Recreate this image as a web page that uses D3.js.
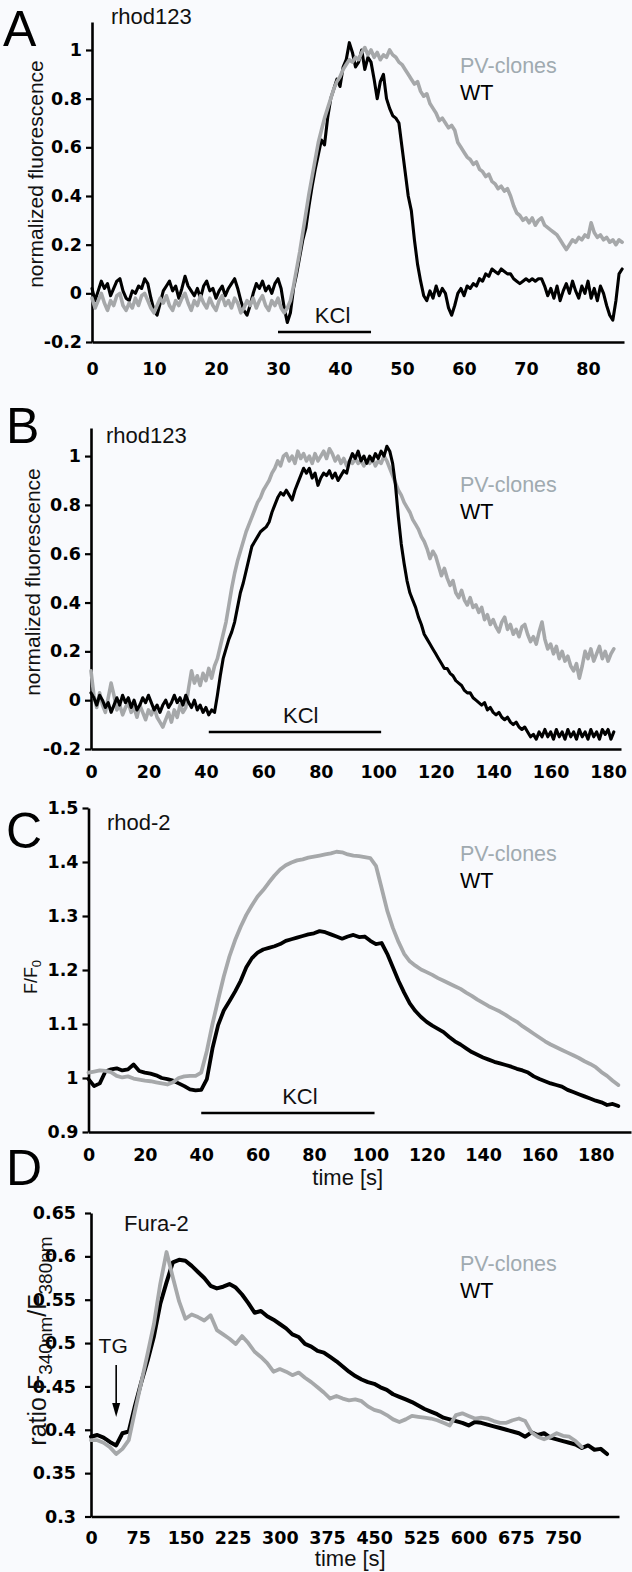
<!DOCTYPE html>
<html><head><meta charset="utf-8">
<script src="https://cdn.jsdelivr.net/npm/d3@7"></script>
<style>
body{margin:0;background:#f9fafd;}
svg{display:block;}
</style>
</head><body>
<svg id="chart" width="632" height="1572"></svg>
<script>
// ---------- DATA ----------
// Panel A (rhod123), sampled every 0.5 s
const A_STEP = 0.5;
const A_WT = [
 0.02,-0.03,0.01,0.05,0.02,0.04,-0.01,0.02,0.05,0.06,
 0.01,-0.02,-0.03,0.01,0.00,0.03,0.02,0.06,0.04,-0.02,
 -0.07,-0.09,-0.04,0.01,0.03,0.05,0.01,0.03,-0.02,0.02,
 0.07,0.03,0.01,-0.01,0.02,-0.02,0.03,0.05,0.01,0.02,
 -0.02,0.01,0.03,-0.01,0.02,0.04,0.06,0.02,-0.03,-0.07,
 -0.09,-0.05,0.00,0.04,0.02,0.05,0.01,0.03,0.00,0.04,
 0.06,0.02,-0.06,-0.12,-0.08,0.02,0.08,0.15,0.22,0.27,
 0.36,0.44,0.51,0.57,0.63,0.61,0.72,0.80,0.84,0.88,
 0.85,0.93,0.96,1.03,0.99,0.93,0.95,1.00,0.92,0.97,
 0.95,0.88,0.80,0.87,0.90,0.80,0.76,0.73,0.72,0.70,
 0.60,0.50,0.40,0.34,0.22,0.12,0.05,-0.01,-0.03,0.01,
 -0.02,0.03,-0.01,0.02,0.00,-0.06,-0.09,-0.05,0.00,0.02,
 -0.01,0.03,0.02,0.04,0.03,0.06,0.05,0.08,0.07,0.10,
 0.09,0.08,0.10,0.09,0.08,0.08,0.06,0.05,0.04,0.05,
 0.06,0.05,0.06,0.05,0.06,0.06,0.03,-0.01,0.02,-0.02,
 0.03,-0.03,0.01,0.04,0.00,0.05,0.01,-0.02,0.03,0.00,
 0.05,-0.02,0.02,-0.03,0.03,0.00,-0.05,-0.09,-0.11,-0.03,
 0.08,0.10
];
const A_PV = [
 -0.02,-0.06,-0.03,0.00,-0.04,-0.07,-0.03,-0.05,-0.01,0.00,
 -0.05,-0.07,-0.04,-0.06,-0.02,-0.05,-0.01,0.00,-0.03,-0.06,
 -0.08,-0.05,-0.02,-0.04,-0.01,-0.05,-0.07,-0.03,-0.05,-0.02,
 0.00,-0.04,-0.07,-0.03,-0.05,-0.01,-0.04,-0.06,-0.02,-0.05,
 -0.07,-0.03,-0.01,-0.05,-0.03,-0.06,-0.02,-0.04,-0.08,-0.06,
 -0.03,-0.05,-0.02,-0.06,-0.03,-0.01,-0.05,-0.07,-0.03,-0.05,
 -0.02,-0.06,-0.08,-0.06,-0.03,0.03,0.10,0.17,0.25,0.33,
 0.41,0.48,0.55,0.62,0.67,0.72,0.76,0.80,0.84,0.87,
 0.89,0.92,0.94,0.96,0.95,0.97,0.96,0.99,1.01,0.98,
 1.00,0.97,0.99,0.96,0.98,0.97,1.00,0.98,0.97,0.95,
 0.94,0.92,0.90,0.88,0.86,0.87,0.83,0.81,0.82,0.78,
 0.76,0.74,0.71,0.72,0.70,0.68,0.69,0.67,0.62,0.60,
 0.58,0.56,0.55,0.53,0.54,0.51,0.50,0.48,0.49,0.46,
 0.45,0.43,0.44,0.42,0.43,0.40,0.36,0.33,0.32,0.30,
 0.31,0.29,0.31,0.28,0.30,0.31,0.28,0.27,0.26,0.25,
 0.24,0.22,0.20,0.18,0.20,0.22,0.21,0.23,0.22,0.24,
 0.23,0.29,0.25,0.23,0.24,0.22,0.23,0.21,0.22,0.20,
 0.22,0.21
];
const A_XTICKS = [0,10,20,30,40,50,60,70,80];
const A_YTICKS = [-0.2,0,0.2,0.4,0.6,0.8,1];
const A_KCL = [30,45];

// Panel B (rhod123), sampled every 1 s
const B_STEP = 1;
const B_WT = [
 0.03,0.01,-0.02,0.02,0.00,-0.03,-0.01,-0.05,-0.02,0.01,
 -0.02,0.02,-0.01,0.01,-0.03,0.00,-0.04,-0.02,0.01,-0.01,
 0.02,-0.01,-0.04,-0.02,-0.05,-0.02,0.00,-0.03,-0.01,0.02,
 -0.01,0.01,-0.02,0.02,-0.01,-0.03,0.00,-0.04,-0.02,-0.05,
 -0.03,-0.06,-0.04,-0.05,0.02,0.10,0.17,0.21,0.25,0.28,
 0.32,0.38,0.44,0.48,0.53,0.58,0.63,0.65,0.67,0.69,
 0.70,0.71,0.73,0.77,0.80,0.83,0.85,0.84,0.86,0.84,
 0.82,0.86,0.89,0.92,0.95,0.93,0.95,0.91,0.93,0.88,
 0.91,0.93,0.92,0.94,0.91,0.93,0.90,0.92,0.94,0.93,
 0.98,1.01,0.99,1.02,0.98,1.00,0.97,1.00,0.98,1.01,
 0.99,1.02,1.00,1.04,1.02,0.97,0.88,0.75,0.64,0.56,
 0.49,0.44,0.41,0.38,0.34,0.31,0.27,0.25,0.23,0.21,
 0.19,0.17,0.15,0.13,0.13,0.11,0.10,0.08,0.07,0.06,
 0.04,0.03,0.03,0.01,0.00,-0.01,-0.02,-0.01,-0.04,-0.03,
 -0.05,-0.06,-0.05,-0.07,-0.08,-0.07,-0.09,-0.10,-0.09,-0.11,
 -0.12,-0.11,-0.13,-0.15,-0.14,-0.16,-0.13,-0.15,-0.12,-0.15,
 -0.13,-0.16,-0.12,-0.15,-0.13,-0.16,-0.12,-0.15,-0.13,-0.16,
 -0.12,-0.15,-0.13,-0.16,-0.12,-0.15,-0.13,-0.16,-0.12,-0.14,
 -0.12,-0.16,-0.13
];
const B_PV = [
 0.12,0.02,-0.03,0.03,-0.02,-0.05,0.01,0.07,0.02,-0.04,
 -0.02,-0.06,-0.03,-0.01,-0.05,-0.03,-0.07,-0.02,-0.05,-0.08,
 -0.04,-0.06,-0.03,-0.07,-0.09,-0.11,-0.08,-0.05,-0.09,-0.04,
 -0.07,-0.02,-0.05,-0.03,0.05,0.12,0.07,0.10,0.06,0.11,
 0.08,0.13,0.09,0.14,0.17,0.22,0.27,0.32,0.39,0.46,
 0.52,0.57,0.61,0.65,0.69,0.72,0.75,0.78,0.81,0.83,
 0.86,0.88,0.90,0.93,0.95,0.98,0.96,1.00,1.01,0.98,
 1.00,0.97,1.02,0.99,1.01,0.98,1.00,0.97,1.01,0.98,
 1.00,1.02,0.99,1.03,1.01,0.98,1.00,0.97,0.99,0.96,
 0.98,0.97,0.99,0.97,0.98,0.96,0.98,0.97,0.99,0.96,
 0.98,0.97,1.00,0.98,0.95,0.92,0.89,0.86,0.84,0.81,
 0.79,0.77,0.74,0.72,0.70,0.67,0.65,0.62,0.58,0.61,
 0.59,0.55,0.51,0.54,0.50,0.47,0.49,0.44,0.42,0.45,
 0.41,0.39,0.42,0.38,0.39,0.36,0.38,0.33,0.35,0.31,
 0.33,0.30,0.28,0.32,0.34,0.29,0.31,0.27,0.29,0.26,
 0.30,0.31,0.27,0.24,0.26,0.23,0.28,0.32,0.25,0.21,
 0.23,0.19,0.22,0.17,0.20,0.16,0.18,0.14,0.12,0.15,
 0.09,0.14,0.20,0.17,0.21,0.16,0.19,0.22,0.17,0.20,
 0.16,0.19,0.21
];
const B_XTICKS = [0,20,40,60,80,100,120,140,160,180];
const B_YTICKS = [-0.2,0,0.2,0.4,0.6,0.8,1];
const B_KCL = [41,101];

// Panel C (rhod-2), sampled every 2 s
const C_STEP = 2;
const C_WT = [
 0.998,0.985,0.990,1.012,1.016,1.018,1.014,1.016,1.025,1.013,
 1.010,1.008,1.005,1.000,0.998,0.995,0.990,0.985,0.979,0.977,
 0.978,0.998,1.055,1.098,1.125,1.142,1.160,1.180,1.205,1.222,
 1.232,1.238,1.241,1.244,1.248,1.254,1.257,1.260,1.263,1.266,
 1.268,1.272,1.270,1.266,1.262,1.258,1.262,1.265,1.261,1.262,
 1.254,1.248,1.250,1.230,1.205,1.180,1.158,1.138,1.124,1.113,
 1.104,1.097,1.091,1.085,1.076,1.068,1.062,1.055,1.048,1.043,
 1.038,1.034,1.030,1.027,1.024,1.021,1.017,1.014,1.010,1.003,
 0.998,0.994,0.990,0.987,0.984,0.978,0.974,0.970,0.966,0.962,
 0.958,0.955,0.950,0.952,0.948
];
const C_PV = [
 1.010,1.012,1.014,1.013,1.011,1.004,1.001,1.003,0.999,0.997,
 0.995,0.994,0.992,0.990,0.988,0.992,1.000,1.003,1.004,1.004,
 1.010,1.050,1.100,1.145,1.188,1.225,1.255,1.280,1.302,1.320,
 1.336,1.348,1.362,1.375,1.386,1.394,1.399,1.403,1.405,1.408,
 1.410,1.412,1.414,1.416,1.419,1.418,1.414,1.412,1.411,1.409,
 1.407,1.393,1.352,1.310,1.278,1.252,1.230,1.216,1.208,1.201,
 1.196,1.191,1.185,1.180,1.175,1.170,1.165,1.158,1.152,1.145,
 1.139,1.133,1.128,1.123,1.117,1.110,1.104,1.096,1.089,1.082,
 1.075,1.068,1.062,1.057,1.052,1.047,1.042,1.037,1.031,1.026,
 1.020,1.011,1.004,0.995,0.987
];
const C_XTICKS = [0,20,40,60,80,100,120,140,160,180];
const C_YTICKS = [0.9,1,1.1,1.2,1.3,1.4,1.5];
const C_KCL = [40,101.5];

// Panel D (Fura-2), sampled every 10 s
const D_STEP = 10;
const D_WT = [
 0.392,0.394,0.391,0.386,0.382,0.396,0.398,0.428,0.455,0.480,
 0.508,0.545,0.570,0.593,0.596,0.595,0.589,0.582,0.575,0.566,
 0.563,0.565,0.568,0.564,0.556,0.546,0.535,0.537,0.531,0.527,
 0.522,0.517,0.510,0.507,0.499,0.496,0.491,0.489,0.484,0.479,
 0.473,0.467,0.462,0.458,0.455,0.453,0.449,0.446,0.441,0.438,
 0.435,0.432,0.428,0.424,0.421,0.418,0.414,0.412,0.410,0.408,
 0.405,0.409,0.408,0.406,0.404,0.402,0.400,0.398,0.396,0.392,
 0.397,0.394,0.396,0.391,0.389,0.387,0.385,0.383,0.379,0.382,
 0.377,0.378,0.372
];
const D_PV = [
 0.388,0.388,0.385,0.380,0.372,0.378,0.388,0.422,0.455,0.488,
 0.522,0.568,0.605,0.576,0.548,0.528,0.533,0.530,0.526,0.532,
 0.515,0.510,0.505,0.499,0.508,0.500,0.490,0.484,0.477,0.467,
 0.470,0.467,0.463,0.466,0.460,0.455,0.449,0.443,0.436,0.439,
 0.436,0.434,0.435,0.433,0.427,0.423,0.421,0.417,0.412,0.409,
 0.412,0.416,0.415,0.414,0.413,0.411,0.408,0.405,0.417,0.419,
 0.416,0.413,0.414,0.413,0.410,0.408,0.408,0.411,0.413,0.410,
 0.397,0.392,0.389,0.392,0.396,0.393,0.392,0.387,0.380
];
const D_XTICKS = [0,75,150,225,300,375,450,525,600,675,750];
const D_YTICKS = [0.3,0.35,0.4,0.45,0.5,0.55,0.6,0.65];
const D_TG = 40;

const SERIES_NAMES = ["PV-clones","WT"];

// ---------- DRAW ----------
const svg = d3.select("#chart");
const GRAY = "#a6a8aa";
const LEGEND_GRAY = "#a0aab0";
const TEXT_FONT = "'Liberation Sans', Arial, Helvetica, sans-serif";
const TICK_FONT = "'DejaVu Sans', sans-serif";
const fmt = v => String(+v.toFixed(2));

function drawPanel(p) {
  const x = d3.scaleLinear().domain(p.xDomain).range(p.xRange);
  const y = d3.scaleLinear().domain(p.yDomain).range(p.yRange);
  const g = svg.append("g");

  const ya = g.append("g").attr("transform", `translate(${p.xRange[0]},0)`)
    .call(d3.axisLeft(y).tickValues(p.yTicks).tickFormat(fmt)
      .tickSize(6).tickSizeOuter(0).tickPadding(p.yPad));
  const xa = g.append("g").attr("transform", `translate(0,${p.yRange[0]})`)
    .call(d3.axisBottom(x).tickValues(p.xTicks).tickFormat(fmt)
      .tickSize(0).tickSizeOuter(0).tickPadding(p.xPad));
  [ya, xa].forEach(a => {
    a.select(".domain").attr("stroke", "#000").attr("stroke-width", 2.6);
    a.selectAll(".tick line").attr("stroke", "#000").attr("stroke-width", 2.2);
    a.selectAll(".tick text").attr("fill", "#000")
      .style("font-family", TICK_FONT).style("font-weight", "bold").style("font-size", "17.5px");
  });

  const mk = step => d3.line().x((d, i) => x(i * step)).y(d => y(d));
  const order = p.grayOnTop ? [[p.wt, "#000", p.wtW], [p.pv, GRAY, p.pvW]]
                            : [[p.pv, GRAY, p.pvW], [p.wt, "#000", p.wtW]];
  order.forEach(([data, col, w]) => {
    g.append("path").datum(data).attr("d", mk(p.step)).attr("fill", "none")
      .attr("stroke", col).attr("stroke-width", w)
      .attr("stroke-linejoin", "round").attr("stroke-linecap", "round");
  });

  if (p.kcl) {
    g.append("line").attr("x1", x(p.kcl[0])).attr("x2", x(p.kcl[1]))
      .attr("y1", p.kclY).attr("y2", p.kclY).attr("stroke", "#000").attr("stroke-width", 2.6);
    g.append("text").attr("x", x(p.kclText)).attr("y", p.kclY - 9)
      .attr("text-anchor", "middle").style("font-family", TEXT_FONT).style("font-size", "22px")
      .attr("fill", "#111").text("KCl");
  }

  g.append("text").attr("x", p.dye[1]).attr("y", p.dye[2])
    .style("font-family", TEXT_FONT).style("font-size", "22px").attr("fill", "#111").text(p.dye[0]);

  g.append("text").attr("x", 460).attr("y", p.legY)
    .style("font-family", TEXT_FONT).style("font-size", "21.5px").attr("fill", LEGEND_GRAY).text(SERIES_NAMES[0]);
  g.append("text").attr("x", 460).attr("y", p.legY + 27)
    .style("font-family", TEXT_FONT).style("font-size", "21.5px").attr("fill", "#000").text(SERIES_NAMES[1]);

  g.append("text").attr("x", p.letter[1]).attr("y", p.letter[2])
    .style("font-family", TEXT_FONT).style("font-size", "50px").attr("fill", "#000").text(p.letter[0]);

  return {x, y, g};
}

const pa = drawPanel({
  xDomain: [0, 85.8], xRange: [92, 624], yDomain: [-0.2, 1.115], yRange: [342, 22],
  xTicks: A_XTICKS, yTicks: A_YTICKS, yPad: 4, xPad: 21,
  wt: A_WT, pv: A_PV, step: A_STEP, grayOnTop: true, wtW: 3.1, pvW: 3.6,
  kcl: A_KCL, kclY: 332, kclText: 38.8, dye: ["rhod123", 111, 24], legY: 73, letter: ["A", 3, 46]
});
const pb = drawPanel({
  xDomain: [0, 184.5], xRange: [91, 621], yDomain: [-0.2, 1.115], yRange: [749, 428],
  xTicks: B_XTICKS, yTicks: B_YTICKS, yPad: 4, xPad: 17,
  wt: B_WT, pv: B_PV, step: B_STEP, grayOnTop: false, wtW: 3.1, pvW: 3.6,
  kcl: B_KCL, kclY: 732, kclText: 73, dye: ["rhod123", 106, 443], legY: 492, letter: ["B", 6, 443]
});
const pc = drawPanel({
  xDomain: [0, 192.5], xRange: [88.5, 631], yDomain: [0.9, 1.5], yRange: [1132, 808],
  xTicks: C_XTICKS, yTicks: C_YTICKS, yPad: 4, xPad: 17,
  wt: C_WT, pv: C_PV, step: C_STEP, grayOnTop: true, wtW: 3.8, pvW: 3.8,
  kcl: C_KCL, kclY: 1113, kclText: 75, dye: ["rhod-2", 107, 830], legY: 861, letter: ["C", 6, 848]
});
const pd = drawPanel({
  xDomain: [0, 839], xRange: [91, 619], yDomain: [0.3, 0.65], yRange: [1516.5, 1213],
  xTicks: D_XTICKS, yTicks: D_YTICKS, yPad: 9, xPad: 15,
  wt: D_WT, pv: D_PV, step: D_STEP, grayOnTop: true, wtW: 4, pvW: 3.8,
  kcl: null, dye: ["Fura-2", 124, 1231], legY: 1271, letter: ["D", 6, 1185]
});

function yTitle(cx, cy, build) {
  const t = svg.append("text").attr("transform", `translate(${cx},${cy}) rotate(-90)`)
    .attr("text-anchor", "middle").style("font-family", TEXT_FONT).attr("fill", "#111");
  build(t);
}
yTitle(43, 174, t => t.style("font-size", "21px").text("normalized fluorescence"));
yTitle(40, 582, t => t.style("font-size", "21px").text("normalized fluorescence"));
yTitle(37, 977, t => {
  t.style("font-size", "18px");
  t.append("tspan").text("F/F");
  t.append("tspan").attr("dy", 4).style("font-size", "13px").text("0");
});
yTitle(46, 1341, t => {
  t.style("font-size", "25px");
  t.append("tspan").text("ratio F");
  t.append("tspan").attr("dy", 6).style("font-size", "19px").text("340nm");
  t.append("tspan").attr("dy", -6).text("/F");
  t.append("tspan").attr("dy", 6).style("font-size", "19px").text("380nm");
});

svg.append("text").attr("x", pc.x(92)).attr("y", 1185).attr("text-anchor", "middle")
  .style("font-family", TEXT_FONT).style("font-size", "22px").attr("fill", "#111").text("time [s]");
svg.append("text").attr("x", pd.x(412)).attr("y", 1566).attr("text-anchor", "middle")
  .style("font-family", TEXT_FONT).style("font-size", "22px").attr("fill", "#111").text("time [s]");

const tgx = pd.x(D_TG);
svg.append("text").attr("x", tgx - 3).attr("y", 1353).attr("text-anchor", "middle")
  .style("font-family", TEXT_FONT).style("font-size", "21px").attr("fill", "#111").text("TG");
svg.append("line").attr("x1", tgx).attr("x2", tgx).attr("y1", 1365).attr("y2", 1406)
  .attr("stroke", "#000").attr("stroke-width", 1.6);
svg.append("path").attr("d", `M${tgx - 4},${1403} L${tgx + 4},${1403} L${tgx},${1417} Z`).attr("fill", "#000");
</script>
</body></html>
